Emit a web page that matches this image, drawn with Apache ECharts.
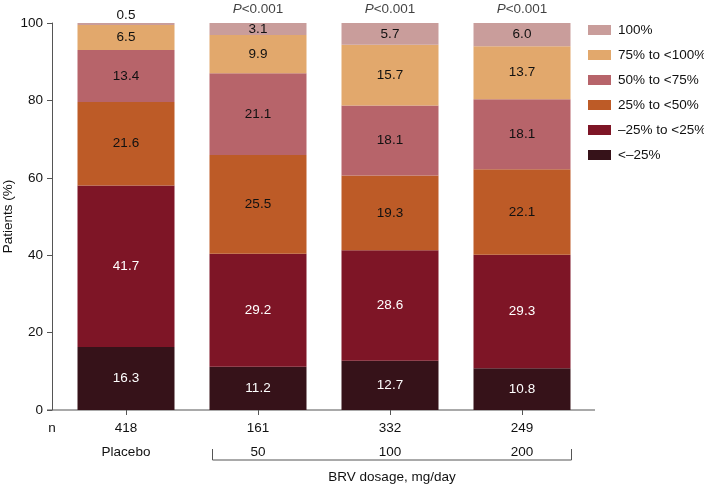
<!DOCTYPE html>
<html><head><meta charset="utf-8">
<script src="https://cdn.jsdelivr.net/npm/echarts@6/dist/echarts.min.js"></script>
<style>html,body{margin:0;padding:0;background:#fff}#c{width:704px;height:484px}</style>
</head><body><div id="c"></div>
<script>
const categories = ['Placebo', '50', '100', '200'];
const nValues = [418, 161, 332, 249];
const seriesNames = ['<\u201325%', '\u201325% to <25%', '25% to <50%', '50% to <75%', '75% to <100%', '100%'];
const sLtMinus25 = [16.3, 11.2, 12.7, 10.8];
const sMinus25to25 = [41.7, 29.2, 28.6, 29.3];
const s25to50 = [21.6, 25.5, 19.3, 22.1];
const s50to75 = [13.4, 21.1, 18.1, 18.1];
const s75to100 = [6.5, 9.9, 15.7, 13.7];
const s100 = [0.5, 3.1, 5.7, 6.0];
const pValues = [null, 'P<0.001', 'P<0.001', 'P<0.001'];
const yTicks = [0, 20, 40, 60, 80, 100];

const colors = ['#361219', '#7e1526', '#bd5b27', '#b7646a', '#e2a86c', '#c99d9b'];
const textColors = ['#fff', '#fff', '#111', '#111', '#111', '#111'];
const allData = [sLtMinus25, sMinus25to25, s25to50, s50to75, s75to100, s100];
const FONT = '"Liberation Sans", Arial, sans-serif';
const FS = 13.5;

const chart = echarts.init(document.getElementById('c'), null, {renderer: 'canvas'});

const barSeries = allData.map((arr, i) => ({
  name: seriesNames[i],
  type: 'bar',
  stack: 'total',
  barWidth: 97,
  itemStyle: {color: colors[i]},
  label: {
    show: true, position: 'inside', color: textColors[i],
    fontSize: FS, fontFamily: FONT,
    formatter: p => p.value.toFixed(1)
  },
  data: arr.map((v, j) => {
    if (i === 5 && v < 1) {
      return {value: v, label: {position: 'top', distance: 1}};
    }
    return v;
  })
}));

const pSeries = {
  name: 'p',
  type: 'scatter',
  symbolSize: 0,
  silent: true,
  data: pValues.map(p => p ? 100 : null),
  label: {
    show: true, position: 'top', distance: 7,
    formatter: p => '{i|P}{n|<0.001}',
    rich: {
      i: {fontStyle: 'italic', fontSize: FS, fontFamily: FONT, color: '#111'},
      n: {fontSize: FS, fontFamily: FONT, color: '#111'}
    }
  }
};

chart.setOption({
  animation: false,
  textStyle: {fontFamily: FONT},
  grid: {left: 60, right: 116, top: 23, bottom: 74, containLabel: false, outerBoundsMode: 'none'},
  legend: {
    data: seriesNames.slice().reverse(),
    orient: 'vertical',
    left: 588, top: 23, padding: 0,
    itemWidth: 23, itemHeight: 10, itemGap: 11,
    icon: 'rect',
    textStyle: {fontSize: FS, color: '#111', fontFamily: FONT, padding: [0, 0, 0, 2]}
  },
  xAxis: {
    type: 'category',
    data: categories,
    axisLine: {show: false},
    axisTick: {show: true, alignWithLabel: true, length: 5, lineStyle: {color: '#555'}},
    axisLabel: {
      margin: 6,
      formatter: (v, idx) => '{n|' + nValues[idx] + '}\n{c|' + v + '}',
      rich: {
        n: {fontSize: FS, lineHeight: 24, color: '#111', fontFamily: FONT},
        c: {fontSize: FS, lineHeight: 24, color: '#111', fontFamily: FONT}
      }
    }
  },
  yAxis: {
    type: 'value', min: 0, max: 100, interval: 20,
    offset: 8,
    name: 'Patients (%)', nameLocation: 'middle', nameGap: 37, nameMoveOverlap: false,
    nameTextStyle: {fontSize: FS, color: '#111', fontFamily: FONT},
    axisLine: {show: true, lineStyle: {color: '#555'}},
    axisTick: {show: true, length: 5, lineStyle: {color: '#555'}},
    axisLabel: {fontSize: FS, color: '#111', margin: 9, fontFamily: FONT,
      formatter: v => yTicks.includes(v) ? String(v) : ''},
    splitLine: {show: false}
  },
  series: barSeries.concat([pSeries])
});

// decorations: baseline, n label, bracket, group title
const x0 = chart.convertToPixel({xAxisIndex: 0}, categories[1]);
const x3 = chart.convertToPixel({xAxisIndex: 0}, categories[3]);
const yBase = chart.convertToPixel({yAxisIndex: 0}, 0);
const half = 97 / 2;
const bl = x0 - half + 3, br = x3 + half + 1;
chart.setOption({
  graphic: [
    {type: 'line', shape: {x1: 47, y1: yBase, x2: 595, y2: yBase}, style: {stroke: '#555', lineWidth: 1}, silent: true},
    {type: 'text', x: 52, y: 428, style: {text: 'n', fontSize: FS, fontFamily: FONT, fill: '#111', align: 'center', verticalAlign: 'middle'}},
    {type: 'polyline', shape: {points: [[bl, 449], [bl, 460], [br, 460], [br, 449]]}, style: {stroke: '#555', lineWidth: 1, fill: null}},
    {type: 'text', x: (bl + br) / 2, y: 477, style: {text: 'BRV dosage, mg/day', fontSize: FS, fontFamily: FONT, fill: '#111', align: 'center', verticalAlign: 'middle'}}
  ]
});
</script></body></html>
